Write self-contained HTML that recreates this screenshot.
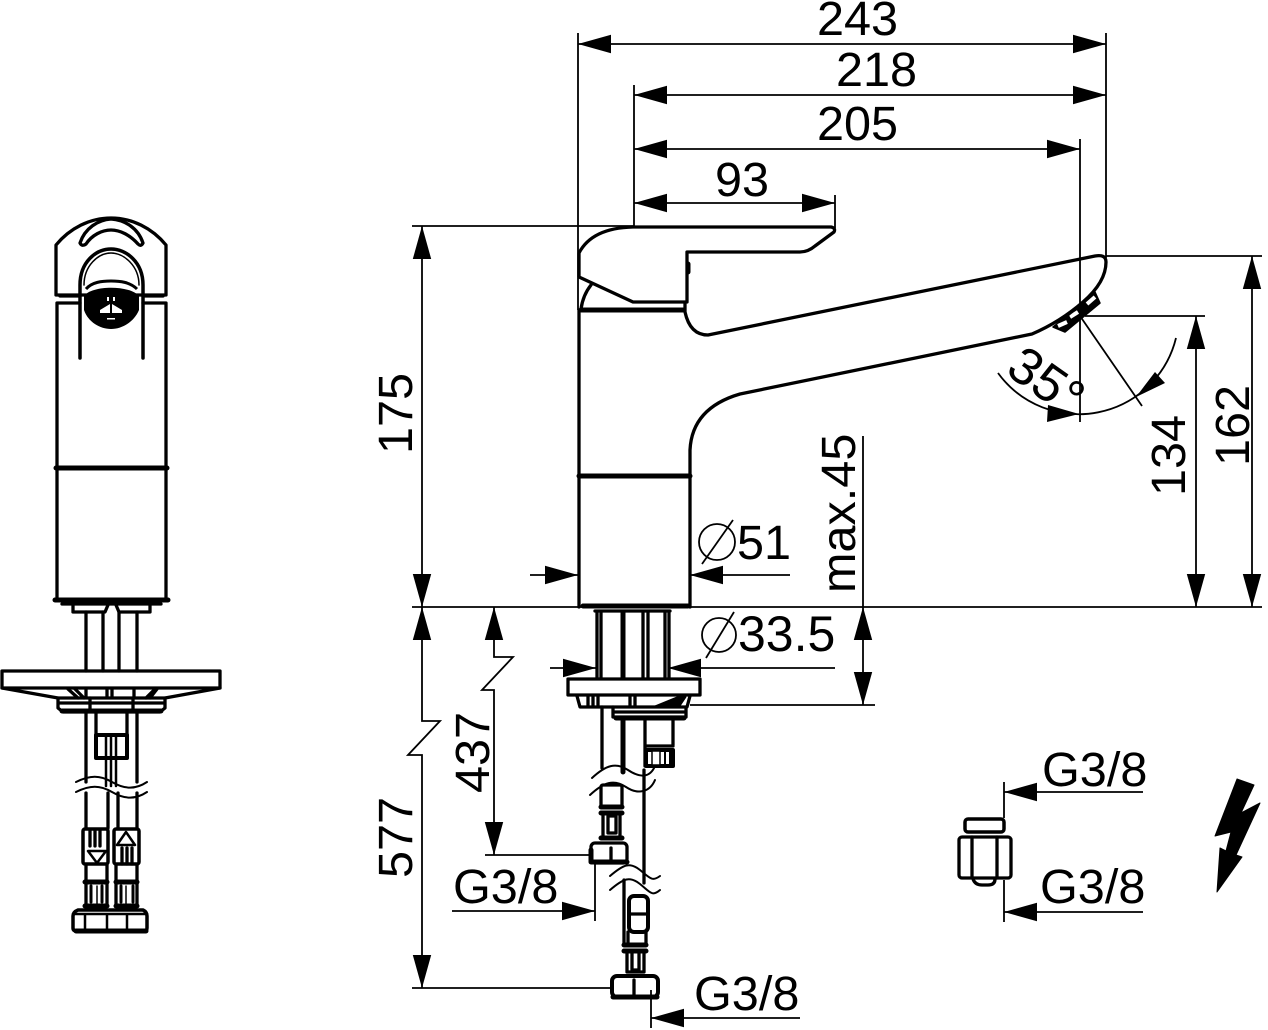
<!DOCTYPE html>
<html><head><meta charset="utf-8"><style>
html,body{margin:0;padding:0;background:#fff}
svg{display:block}
text{font-family:"Liberation Sans",sans-serif;font-size:48.6px;fill:#000}
.d{stroke:#000;stroke-width:1.8;fill:none}
.o{stroke:#000;stroke-width:3.3;fill:none;stroke-linejoin:round;stroke-linecap:round}
.t{stroke:#000;stroke-width:5;fill:none;stroke-linejoin:round}
</style></head><body>
<svg width="1268" height="1030" viewBox="0 0 1268 1030" xmlns="http://www.w3.org/2000/svg">
<defs><marker id="a" markerUnits="userSpaceOnUse" markerWidth="36" markerHeight="20" refX="33" refY="10" orient="auto-start-reverse"><path d="M0,0.8L33,10L0,19.2z" fill="#000"/></marker></defs>

<!-- dimensions -->
<g class="d">
<path d="M578,33V310M1106,33V258M634,85V228M1080,139V422M835,195V228M412,226H634M412,607H1262M1106,256H1262M1085,316H1205M412,988H612M485,855H590M863,436V607M690,705H875M595,860V921M651,990V1028M1004,782V818M1004,880V922"/>
<line x1="578" y1="44" x2="1106" y2="44" marker-start="url(#a)" marker-end="url(#a)"/>
<line x1="634" y1="95" x2="1106" y2="95" marker-start="url(#a)" marker-end="url(#a)"/>
<line x1="634" y1="149" x2="1080" y2="149" marker-start="url(#a)" marker-end="url(#a)"/>
<line x1="634" y1="203" x2="835" y2="203" marker-start="url(#a)" marker-end="url(#a)"/>
<line x1="422" y1="226" x2="422" y2="607" marker-start="url(#a)" marker-end="url(#a)"/>
<line x1="1252" y1="256" x2="1252" y2="607" marker-start="url(#a)" marker-end="url(#a)"/>
<line x1="1196" y1="316" x2="1196" y2="607" marker-start="url(#a)" marker-end="url(#a)"/>
<path d="M422,607V721H440L408,755H422V988" marker-start="url(#a)" marker-end="url(#a)"/>
<path d="M494,607V657H513L482,690H494V855" marker-start="url(#a)" marker-end="url(#a)"/>
<line x1="863" y1="607" x2="863" y2="705" marker-start="url(#a)" marker-end="url(#a)"/>
<line x1="530" y1="575" x2="578" y2="575" marker-end="url(#a)"/>
<line x1="790" y1="575" x2="690" y2="575" marker-end="url(#a)"/>
<line x1="550" y1="668" x2="596" y2="668" marker-end="url(#a)"/>
<line x1="835" y1="668" x2="668" y2="668" marker-end="url(#a)"/>
<line x1="452" y1="911" x2="595" y2="911" marker-end="url(#a)"/>
<line x1="800" y1="1018" x2="651" y2="1018" marker-end="url(#a)"/>
<line x1="1143" y1="792" x2="1004" y2="792" marker-end="url(#a)"/>
<line x1="1143" y1="912" x2="1004" y2="912" marker-end="url(#a)"/>
<path d="M998,373A100,100 0 0 0 1176,338M1080,316L1142,406"/>
<circle cx="717" cy="542" r="18"/><path d="M702,564L733,520"/>
<circle cx="719" cy="635" r="17"/><path d="M706,658L734,612"/>
</g>
<path d="M1048,405L1047,422L1079,414zM1136,397L1155,372L1165,383z"/>

<!-- labels -->
<text x="817" y="35">243</text>
<text x="836" y="86">218</text>
<text x="817" y="140">205</text>
<text x="715" y="196">93</text>
<text x="737" y="559">51</text>
<text x="738" y="651" style="font-size:50px">33.5</text>
<text x="1042" y="786">G3/8</text>
<text x="1040" y="903">G3/8</text>
<text x="453" y="903">G3/8</text>
<text x="694" y="1010">G3/8</text>
<text transform="translate(412,454) rotate(-90)">175</text>
<text transform="translate(412,878) rotate(-90)">577</text>
<text transform="translate(489,793) rotate(-90)">437</text>
<text transform="translate(855,593) rotate(-90)">max.45</text>
<text transform="translate(1185,496) rotate(-90)">134</text>
<text transform="translate(1249,466) rotate(-90)">162</text>
<text transform="translate(1004,373) rotate(35)" style="font-size:52px">35°</text>

<!-- side view faucet -->
<g class="o">
<path d="M633,227H831Q836,228 834,232L815,246Q808,252 800,252H687V302H633L579,277V253Q592,228 633,227Z" fill="#fff"/>
<path d="M688,264V272" stroke-width="5"/>
<path d="M581,309Q583,295 591,285"/>
<path d="M685,303V312Q690,335 708,335L1095,256Q1106,254 1106,262Q1106,282 1083,302Q1060,322 1032,334L740,394Q692,408 690,450V607"/>
<path d="M579,310V607"/>
<path class="t" d="M581,310H683M579,476H690M583,606H688"/>

<!-- aerator -->
<path d="M1053,327L1065,332L1100,303L1095,292L1090,296L1078,308L1062,320Z" fill="#000" stroke-width="1.5"/>
<path d="M1058,326L1067,322M1070,317L1078,312M1087,304L1095,297" stroke="#fff" stroke-width="4" stroke-linecap="butt"/>
<path d="M1084,302L1062,320" stroke-width="2.5"/>

<path d="M597,612V678M601,612V678M643,612V678M648,612V678M665,612V678M669,612V678M595,611H670"/>
<path class="t" d="M623,612V678M623,718V772"/>
<rect x="568" y="679" width="132" height="16"/>
<path d="M577,696L580,707H687L690,696M588,696V707M593,696V707M598,696V707M630,696V707M635,696V707"/>
<path d="M655,706L677,697L686,697L680,706Z" fill="#000" stroke-width="1"/>
<path d="M613,707V717H686V707M613,712H686" />
<path class="t" d="M616,718H684"/>
<path d="M602,707V768M645,720V766M673,720V745M645,746H673"/>
<path d="M646,750H673V766H646Z" stroke-width="4"/>
<path d="M652,751H660V765H652Z" fill="#fff" stroke-width="1.5"/>
<path d="M665,751V765M670,751V765" stroke-width="2"/>
<path d="M644,770V883M624,880V945"/>
<path d="M592,778C606,765 616,762 628,770S650,778 655,766" stroke-width="2"/>
<path d="M590,795C604,782 614,779 626,787S650,792 655,780" stroke-width="2"/>
<rect x="601" y="785" width="21" height="22" rx="2" fill="#fff"/>
<path class="t" d="M601,807H622M601,813H622M601,838H622"/>
<path d="M603,813V838M620,813V838M608,816H616V833H608Z"/>
<rect x="591" y="843" width="36" height="20" rx="4"/>
<path class="t" d="M591,850V862H627M600,862H620"/>
<path d="M611,848V862"/>
<path d="M610,876C624,864 630,862 640,870S652,882 660,876" stroke-width="2"/>
<path d="M610,890C624,878 630,876 640,884S652,897 660,890" stroke-width="2"/>
<rect x="629" y="896" width="19" height="36" rx="5" stroke-width="4"/>
<path d="M630,914H648"/>
<path d="M628,932V945H646V932"/>
<path class="t" d="M624,945H646M624,951H646"/>
<path d="M627,951V972H644V951M632,953V970H639V953"/>
<rect x="612" y="976" width="46" height="21" rx="5" stroke-width="4"/>
<path d="M634,980V995"/>
<path class="t" d="M613,997H657"/>

<!-- front view -->
<path d="M56,245C70,228 90,218 111,218C132,218 152,228 166,245V295H56Z"/>
<path d="M80,243C85,228 98,220 111,219C125,220 138,228 143,243Q141,247 138,244C130,235 120,230 111,230C102,230 92,235 86,244Q82,247 80,243Z"/>
<path d="M80,358V285C80,262 96,249 111,249C126,249 143,262 143,285V358" stroke-width="3.5"/>
<path d="M84,285C84,266 98,253 111,253C124,253 139,266 139,285" stroke-width="1.5"/>
<path d="M57,303V600M166,303V600M57,303H80M143,303H166M60,296H80M143,296H163"/>
<path d="M56,468H167" stroke-width="5"/>
</g>
<path d="M84,296C92,285 130,285 139,296L139,310C134,322 122,329 111,329C100,329 88,322 84,310Z"/>
<path d="M86,289C92,282 102,281 111,281C120,281 130,282 137,289" stroke="#000" stroke-width="3" fill="none"/>
<g fill="#fff"><rect x="107" y="297" width="2" height="4"/><rect x="113" y="297" width="2" height="4"/><path d="M100,310L110,304V313H100ZM122,310L112,304V313H122Z"/><rect x="107" y="318" width="8" height="1.5"/></g>
<g class="o">
<path class="t" d="M55,600H168"/>
<path d="M73,605V612H105L108,605M116,605L119,612H150V605M62,604H161"/>
<path d="M86,612V671M103,612V671M119,612V671M137,612V671"/>
<rect x="2" y="671" width="218" height="17"/>
<path d="M2,688L58,698H165L220,688M68,689L78,698M75,689L84,698M146,698L155,689M150,698L157,689M86,689V698M107,689V698M112,689V698M134,689V698"/>
<path d="M58,698V708L63,712H160L165,708V698M58,703H165M90,698V712M133,698V712" />
<path class="t" d="M62,711H161"/>
<path d="M86,712V782M137,712V782M96,713V735H127V713"/>
<path d="M96,735H127V758H96Z" stroke-width="4"/>
<path d="M106,735V758M111,735V758M116,735V758M106,758V786M111,758V786M116,758V786" stroke-width="2.5"/>
<path d="M76,782C90,775 100,775 112,782S135,790 147,782" stroke-width="2"/>
<path d="M76,792C90,785 100,785 112,792S135,800 147,792" stroke-width="2"/>
<path d="M86,793V828M108,793V828M118,793V828M137,793V828"/>
<rect x="83" y="829" width="25" height="35" rx="2" stroke-width="3.5"/>
<rect x="114" y="829" width="25" height="35" rx="2" stroke-width="3.5"/>
<path d="M90,830V846M95,830V846M100,830V846M122,848V864M127,848V864M132,848V864"/>
<path d="M88,851H106L97,863ZM117,845L126,832L135,845Z" stroke-width="2.5"/>
<path class="t" d="M85,882H107M116,882H137M85,906H107M116,906H137"/>
<path d="M86,865V906M107,865V906M116,865V906M137,865V906"/>
<path d="M91,886V902M102,886V902M121,886V902M133,886V902" stroke-width="3"/>
<path d="M97,886V904M126,886V904" stroke-width="1.5"/>
<path d="M78,910H143Q147,912 147,916V928Q147,931 144,931H77Q73,931 73,928V916Q73,912 78,910Z" stroke-width="3.5"/>
<path d="M85,914V930M107,914V930M127,914V930M75,914H146" stroke-width="2.5"/>
<path class="t" d="M76,931H146"/>

<!-- fitting -->
<rect x="965" y="819" width="39" height="13" rx="3" stroke-width="3.5"/>
<rect x="959" y="837" width="52" height="41" rx="3"/>
<path d="M972,837V878M997,837V878M973,879Q975,885 982,885H988Q995,885 995,879"/>
</g>
<!-- lightning -->
<path d="M1237,779L1254,785L1241,813L1260,803L1236,855L1242,857L1217,892L1220,848L1226,851L1231,832L1215,836Z" stroke="#000" stroke-width="1" stroke-linejoin="round"/>
</svg>
</body></html>
